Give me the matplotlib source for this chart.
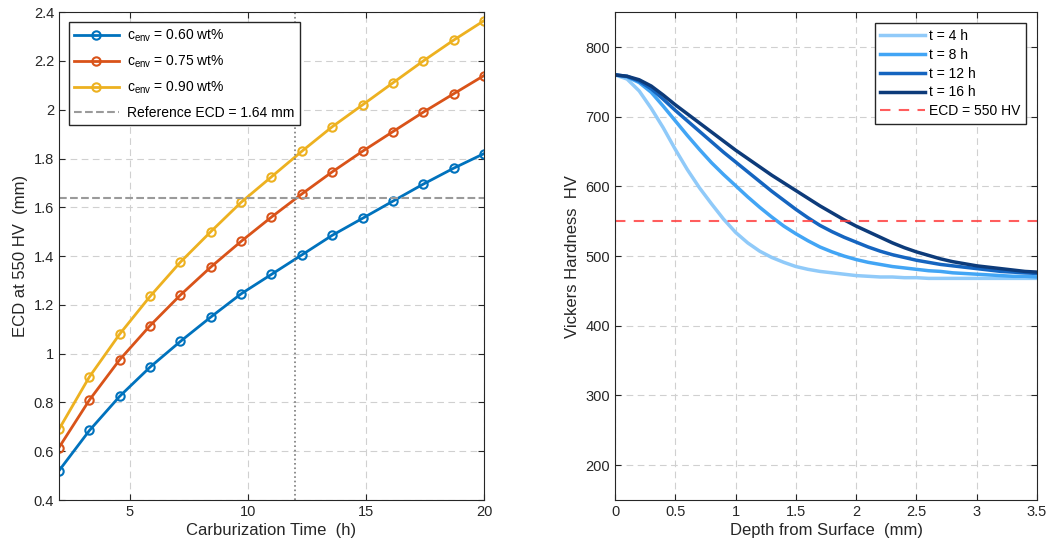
import numpy as np
import matplotlib
matplotlib.use("Agg")
import matplotlib.pyplot as plt
from matplotlib.ticker import FormatStrFormatter

plt.rcParams['font.family'] = ['Liberation Sans', 'DejaVu Sans']
plt.rcParams['mathtext.fontset'] = 'custom'
plt.rcParams['mathtext.rm'] = 'Liberation Sans'

# left panel: ECD vs carburization time
time_h = [2.0, 3.29, 4.57, 5.86, 7.14, 8.43, 9.71, 11.0, 12.29, 13.57, 14.86, 16.14, 17.43, 18.71, 20.0]
ecd_060 = [0.52, 0.685, 0.825, 0.945, 1.05, 1.15, 1.245, 1.325, 1.405, 1.485, 1.555, 1.625, 1.695, 1.76, 1.82]
ecd_075 = [0.615, 0.81, 0.975, 1.115, 1.24, 1.355, 1.46, 1.56, 1.655, 1.745, 1.83, 1.91, 1.99, 2.065, 2.14]
ecd_090 = [0.69, 0.905, 1.08, 1.235, 1.375, 1.5, 1.62, 1.725, 1.83, 1.93, 2.02, 2.11, 2.2, 2.285, 2.365]
ref_ecd = 1.64
ref_time = 12

# right panel: hardness profiles
depth_mm = [0.0, 0.1, 0.2, 0.3, 0.4, 0.5, 0.6, 0.7, 0.8, 0.9, 1.0, 1.1, 1.2, 1.3, 1.4, 1.5, 1.6, 1.7,
            1.8, 1.9, 2.0, 2.1, 2.2, 2.3, 2.4, 2.5, 2.6, 2.7, 2.8, 2.9, 3.0, 3.1, 3.2, 3.3, 3.4, 3.5]
hv_4h = [760, 754, 737, 712, 684, 653, 624, 598, 575, 553, 534, 519, 507, 498, 491, 485, 481, 478,
         476, 474, 472, 471, 470, 470, 469, 469, 468, 468, 468, 468, 468, 468, 468, 468, 468, 468]
hv_8h = [760, 757, 749, 735, 715, 694, 673, 653, 634, 617, 601, 585, 570, 556, 543, 532, 522, 513,
         506, 500, 495, 491, 488, 485, 483, 481, 479, 478, 476, 475, 474, 473, 472, 471, 471, 470]
hv_12h = [760, 758, 751, 740, 725, 709, 694, 679, 664, 649, 635, 621, 607, 593, 580, 567, 555, 544,
          535, 527, 520, 513, 507, 502, 498, 494, 491, 488, 486, 484, 482, 480, 478, 477, 476, 475]
hv_16h = [760, 758, 753, 744, 731, 717, 704, 691, 678, 665, 652, 640, 628, 616, 605, 594, 583, 572,
          562, 552, 543, 535, 527, 519, 512, 506, 501, 496, 492, 489, 486, 484, 482, 480, 478, 477]
hv_ecd = 550

txt = '#262626'
fig = plt.figure(figsize=(10.51, 5.5), dpi=100)
ax1 = fig.add_axes([0.0561, 0.0909, 0.4044, 0.887])
ax2 = fig.add_axes([0.5852, 0.0909, 0.4015, 0.887])

mk = dict(marker='o', mfc='none', ms=6, mew=1.5, lw=2)
ax1.plot(time_h, ecd_060, color='#0072BD', label=r'$\mathregular{c_{env}}$ = 0.60 wt%', **mk)
ax1.plot(time_h, ecd_075, color='#D95319', label=r'$\mathregular{c_{env}}$ = 0.75 wt%', **mk)
ax1.plot(time_h, ecd_090, color='#EDB120', label=r'$\mathregular{c_{env}}$ = 0.90 wt%', **mk)
ax1.axhline(ref_ecd, color='#9a9a9a', ls='--', lw=1.5, label='Reference ECD = 1.64 mm')
ax1.axvline(ref_time, color='#7a7a7a', ls=':', lw=1.2)
ax1.set_xlim(2, 20)
ax1.set_ylim(0.4, 2.4)
ax1.set_xticks([5, 10, 15, 20])
ax1.set_yticks(np.arange(0.4, 2.41, 0.2))
ax1.yaxis.set_major_formatter(FormatStrFormatter('%g'))
ax1.set_xlabel('Carburization Time  (h)', fontsize=12, color=txt, labelpad=3)
ax1.set_ylabel('ECD at 550 HV  (mm)', fontsize=12, color=txt, labelpad=4)
ax1.legend(loc='upper left', fontsize=10, frameon=True, fancybox=False, edgecolor='#262626',
           framealpha=1, handlelength=3.2, handletextpad=0.6, borderaxespad=0.7, labelspacing=0.7)

ax2.plot(depth_mm, hv_4h, color='#90CAF9', lw=2.5, label='t = 4 h')
ax2.plot(depth_mm, hv_8h, color='#42A5F5', lw=2.5, label='t = 8 h')
ax2.plot(depth_mm, hv_12h, color='#1565C0', lw=2.5, label='t = 12 h')
ax2.plot(depth_mm, hv_16h, color='#0D3B7A', lw=2.5, label='t = 16 h')
ax2.axhline(hv_ecd, color='#FF4040', ls=(0, (5, 4)), lw=1.5, alpha=0.85, label='ECD = 550 HV')
ax2.set_xlim(0, 3.5)
ax2.set_ylim(150, 850)
ax2.set_xticks(np.arange(0, 3.51, 0.5))
ax2.set_yticks(range(200, 801, 100))
ax2.xaxis.set_major_formatter(FormatStrFormatter('%g'))
ax2.set_xlabel('Depth from Surface  (mm)', fontsize=12, color=txt, labelpad=3)
ax2.set_ylabel('Vickers Hardness  HV', fontsize=12, color=txt, labelpad=4)
ax2.legend(loc='upper right', fontsize=10, frameon=True, fancybox=False, edgecolor='#262626',
           framealpha=1, handlelength=3.2, handletextpad=0.3, borderaxespad=0.8, labelspacing=0.35)

for ax in (ax1, ax2):
    ax.grid(True, ls=(0, (6, 4)), color='#d0d0d0', lw=0.8)
    ax.tick_params(direction='in', length=4, colors=txt, labelsize=10.5, top=True, right=True)
    for s in ax.spines.values():
        s.set_color('#262626')
        s.set_linewidth(0.8)

fig.savefig('out.png', dpi=100)
